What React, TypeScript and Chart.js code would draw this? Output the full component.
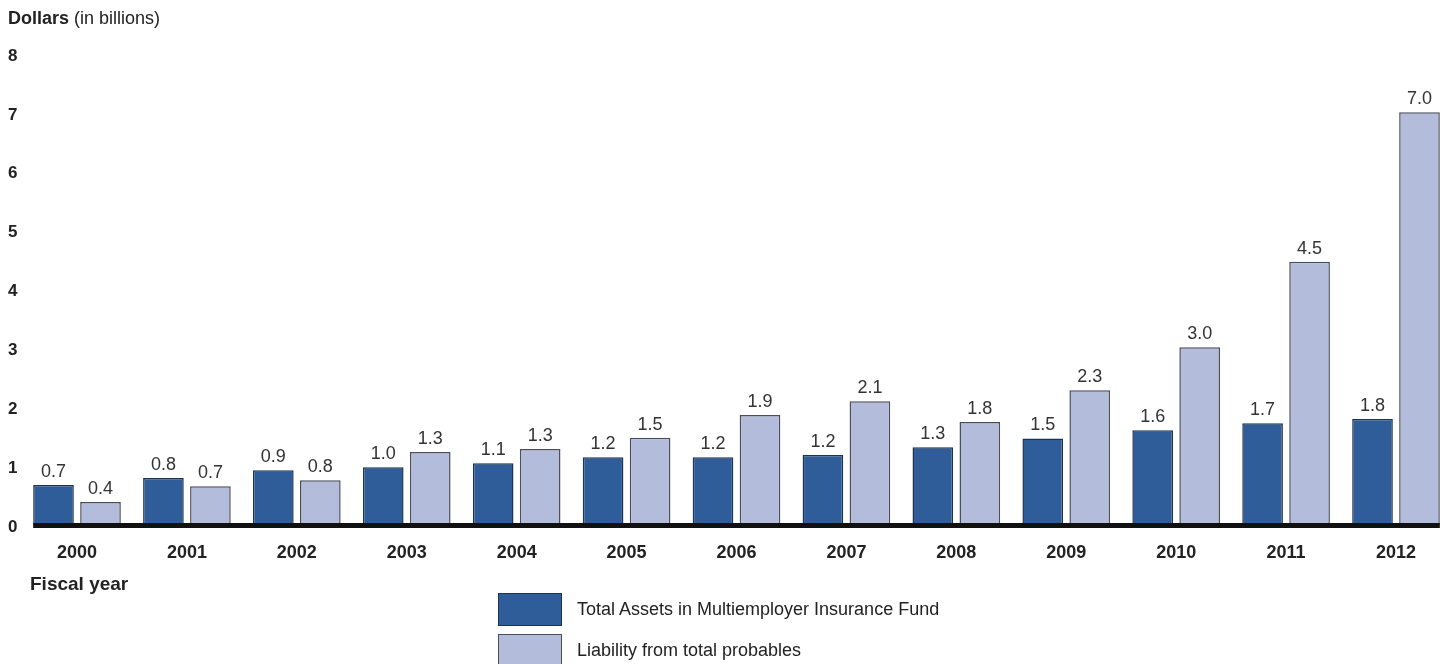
import React, { useEffect, useRef } from "react";
import { Chart, registerables } from "chart.js";

Chart.register(...registerables);

const years = ["2000", "2001", "2002", "2003", "2004", "2005", "2006", "2007", "2008", "2009", "2010", "2011", "2012"];
const assets = [0.68, 0.8, 0.93, 0.98, 1.05, 1.15, 1.15, 1.19, 1.32, 1.47, 1.61, 1.73, 1.8];
const assetLabels = ["0.7", "0.8", "0.9", "1.0", "1.1", "1.2", "1.2", "1.2", "1.3", "1.5", "1.6", "1.7", "1.8"];
const liabilities = [0.39, 0.66, 0.76, 1.24, 1.29, 1.48, 1.87, 2.1, 1.75, 2.29, 3.02, 4.47, 7.01];
const liabilityLabels = ["0.4", "0.7", "0.8", "1.3", "1.3", "1.5", "1.9", "2.1", "1.8", "2.3", "3.0", "4.5", "7.0"];
const seriesNames = ["Total Assets in Multiemployer Insurance Fund", "Liability from total probables"];

const ASSET_FILL = "#2f5d99";
const ASSET_BORDER = "#1e3350";
const LIAB_FILL = "#b4bcdb";
const LIAB_BORDER = "#4a4d5a";
const FONT = "'Liberation Sans', Arial, Helvetica, sans-serif";

const overlayPlugin = {
  id: "overlay",
  afterDatasetsDraw(chart: any) {
    const ctx = chart.ctx;
    const yScale = chart.scales.y;
    const m0 = chart.getDatasetMeta(0);
    const m1 = chart.getDatasetMeta(1);
    const first = m0.data[0];
    const last = m1.data[m1.data.length - 1];
    const x0 = first.x - first.width / 2;
    const x1 = last.x + last.width / 2;
    const y0 = yScale.getPixelForValue(0);
    ctx.save();
    ctx.fillStyle = "#111111";
    ctx.fillRect(x0, y0 - 2, x1 - x0, 5);
    ctx.font = `18px ${FONT}`;
    ctx.fillStyle = "#333333";
    ctx.textAlign = "center";
    ctx.textBaseline = "alphabetic";
    const labelSets = [assetLabels, liabilityLabels];
    [m0, m1].forEach((meta: any, di: number) => {
      meta.data.forEach((bar: any, i: number) => {
        ctx.fillText(labelSets[di][i], bar.x, bar.y - 8);
      });
    });
    ctx.restore();
  },
};

export default function App() {
  const ref = useRef<HTMLCanvasElement>(null);
  useEffect(() => {
    if (!ref.current) return;
    const chart = new Chart(ref.current, {
      type: "bar",
      data: {
        labels: years,
        datasets: [
          {
            label: seriesNames[0],
            data: assets,
            backgroundColor: ASSET_FILL,
            borderColor: ASSET_BORDER,
            borderWidth: 1.5,
            categoryPercentage: 0.855,
            barPercentage: 0.865,
            clip: false,
          } as any,
          {
            label: seriesNames[1],
            data: liabilities,
            backgroundColor: LIAB_FILL,
            borderColor: LIAB_BORDER,
            borderWidth: 1.5,
            categoryPercentage: 0.855,
            barPercentage: 0.865,
            clip: false,
          } as any,
        ],
      },
      options: {
        responsive: false,
        devicePixelRatio: 1,
        animation: false,
        layout: { padding: { left: 8, top: 54, right: 51, bottom: 0 } },
        plugins: { legend: { display: false }, tooltip: { enabled: false } },
        scales: {
          x: {
            offset: false,
            grid: { display: false, drawTicks: false },
            border: { display: false },
            ticks: {
              color: "#222222",
              padding: 17,
              font: { family: FONT, size: 18, weight: "bold" },
              maxRotation: 0,
              autoSkip: false,
            },
            afterFit: (s: any) => {
              s.height = 139;
            },
          },
          y: {
            min: 0,
            max: 8,
            grid: { display: false, drawTicks: false },
            border: { display: false },
            ticks: {
              stepSize: 1,
              color: "#222222",
              crossAlign: "far",
              labelOffset: 2,
              font: { family: FONT, size: 17, weight: "bold" },
            },
            afterFit: (s: any) => {
              s.width = 69;
            },
          },
        },
      } as any,
      plugins: [overlayPlugin],
    });
    return () => chart.destroy();
  }, []);

  const text: React.CSSProperties = {
    position: "absolute",
    fontFamily: FONT,
    color: "#222222",
    whiteSpace: "nowrap",
    lineHeight: "20px",
  };
  const box = (fill: string, border: string, top: number): React.CSSProperties => ({
    position: "absolute",
    left: 498,
    top,
    width: 64,
    height: 33,
    boxSizing: "border-box",
    background: fill,
    border: `1.5px solid ${border}`,
  });

  return (
    <div style={{ position: "fixed", left: 0, top: 0, width: 1447, height: 664, background: "#ffffff", overflow: "hidden" }}>
      <canvas ref={ref} width={1447} height={664} style={{ display: "block" }} />
      <div style={{ ...text, left: 8, top: 8, fontSize: 18 }}>
        <b>Dollars</b> (in billions)
      </div>
      <div style={{ ...text, left: 30, top: 574, fontSize: 19, fontWeight: "bold" }}>Fiscal year</div>
      <div style={box(ASSET_FILL, ASSET_BORDER, 593)} />
      <div style={{ ...text, left: 577, top: 599, fontSize: 18 }}>{seriesNames[0]}</div>
      <div style={box(LIAB_FILL, LIAB_BORDER, 634)} />
      <div style={{ ...text, left: 577, top: 640, fontSize: 18 }}>{seriesNames[1]}</div>
    </div>
  );
}
